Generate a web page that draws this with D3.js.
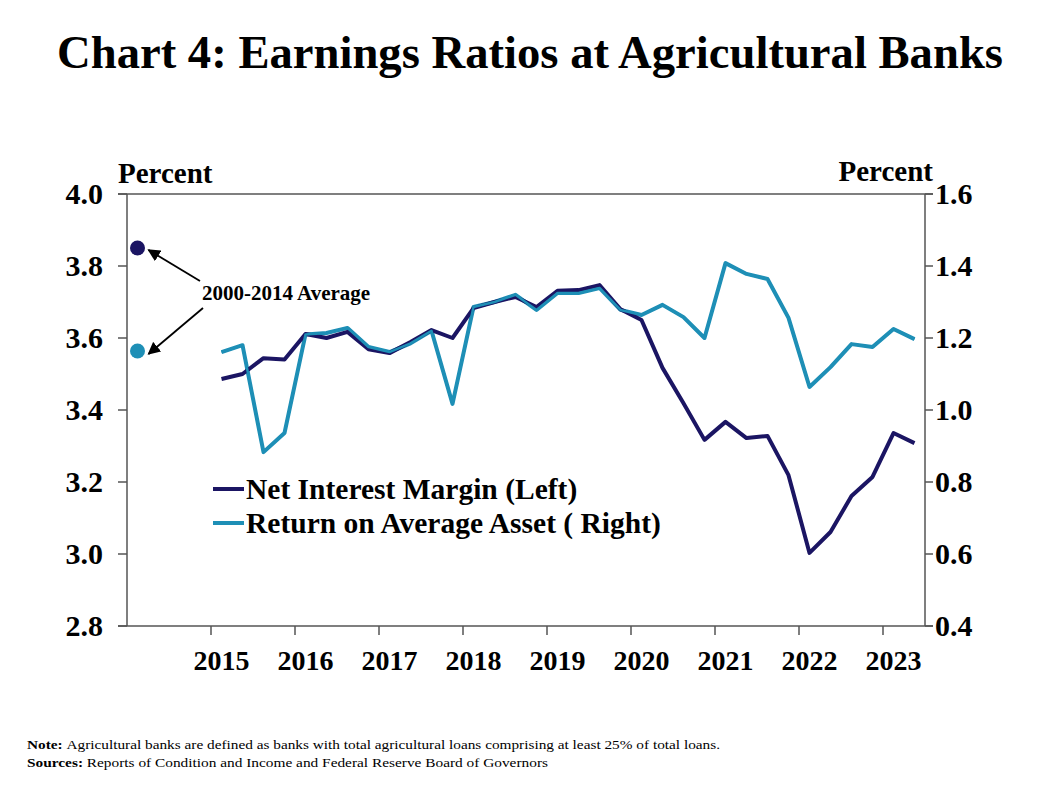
<!DOCTYPE html>
<html>
<head>
<meta charset="utf-8">
<script src="https://cdn.jsdelivr.net/npm/d3@7"></script>
<style>
  body { margin: 0; background: #fff; }
  svg text { font-family: "Liberation Serif", "Times New Roman", serif; font-weight: bold; fill: #000; }
</style>
</head>
<body>
<div id="chart"></div>
<script>
// Earnings ratios at agricultural banks, quarterly 2015Q1 - 2023Q2

const quarters = ['2015Q1','2015Q2','2015Q3','2015Q4','2016Q1','2016Q2','2016Q3','2016Q4',
                  '2017Q1','2017Q2','2017Q3','2017Q4','2018Q1','2018Q2','2018Q3','2018Q4',
                  '2019Q1','2019Q2','2019Q3','2019Q4','2020Q1','2020Q2','2020Q3','2020Q4',
                  '2021Q1','2021Q2','2021Q3','2021Q4','2022Q1','2022Q2','2022Q3','2022Q4',
                  '2023Q1','2023Q2']

const nim = [3.486, 3.50, 3.544, 3.54, 3.611, 3.60, 3.617, 3.569,
             3.558, 3.589, 3.622, 3.60, 3.683, 3.70, 3.714, 3.686,
             3.731, 3.733, 3.747, 3.68, 3.65, 3.517, 3.419, 3.317,
             3.367, 3.322, 3.328, 3.219, 3.003, 3.061, 3.161, 3.214,
             3.336, 3.308] // left axis

const roa = [1.161, 1.18, 0.883, 0.936, 1.21, 1.214, 1.228, 1.175,
             1.161, 1.185, 1.22, 1.017, 1.286, 1.30, 1.32, 1.278,
             1.325, 1.325, 1.339, 1.278, 1.264, 1.292, 1.258, 1.20,
             1.408, 1.378, 1.364, 1.256, 1.064, 1.119, 1.183, 1.175,
             1.225, 1.197] // right axis

const avgNim = 3.85  // 2000-2014 average, left axis
const avgRoa = 1.164 // 2000-2014 average, right axis

const years      = [2015, 2016, 2017, 2018, 2019, 2020, 2021, 2022, 2023]
const leftTicks  = [2.8, 3.0, 3.2, 3.4, 3.6, 3.8, 4.0]
const rightTicks = [0.4, 0.6, 0.8, 1.0, 1.2, 1.4, 1.6]

const C_NIM = '#1b1563'
const C_ROA = '#1e8fb6'

const W = 1050, H = 787
const L = 127, R = 925, T = 194, B = 626 // plot box

const svg = d3.select('#chart').append('svg').attr('width', W).attr('height', H)

// category slots run from 2014Q1 to 2023Q2 (38 quarters)
const FIRST = 2014
const xs  = d3.scaleLinear([0, 38], [L, R])
const qi  = q => (+q.slice(0, 4) - FIRST) * 4 + (+q.slice(5) - 1) // slot index
const ysl = d3.scaleLinear([2.8, 4.0], [B, T])
const ysr = d3.scaleLinear([0.4, 1.6], [B, T])

// title
svg.append('text').attr('x', 530).attr('y', 68).attr('text-anchor', 'middle')
  .style('font-size', '47px').attr('textLength', 946).attr('lengthAdjust', 'spacingAndGlyphs')
  .text('Chart 4: Earnings Ratios at Agricultural Banks')

// axes
const ax = svg.append('g').attr('stroke', '#555').attr('stroke-width', 1.5)
ax.append('line').attr('x1', L - 9).attr('x2', R + 8).attr('y1', T).attr('y2', T)
ax.append('line').attr('x1', L - 9).attr('x2', R + 8).attr('y1', B).attr('y2', B)
ax.append('line').attr('x1', L).attr('x2', L).attr('y1', T).attr('y2', B)
ax.append('line').attr('x1', R).attr('x2', R).attr('y1', T).attr('y2', B)

ax.selectAll('.tl').data(leftTicks).join('line')
  .attr('x1', L - 9).attr('x2', L).attr('y1', d => ysl(d)).attr('y2', d => ysl(d))
ax.selectAll('.tr').data(rightTicks).join('line')
  .attr('x1', R).attr('x2', R + 8).attr('y1', d => ysr(d)).attr('y2', d => ysr(d))
ax.selectAll('.tx').data(years).join('line')
  .attr('x1', d => xs((d - FIRST) * 4)).attr('x2', d => xs((d - FIRST) * 4))
  .attr('y1', B).attr('y2', B + 9)

svg.selectAll('.ll').data(leftTicks).join('text')
  .attr('x', 103).attr('y', d => ysl(d) + 10).attr('text-anchor', 'end')
  .style('font-size', '30px').text(d => d.toFixed(1))
svg.selectAll('.rl').data(rightTicks).join('text')
  .attr('x', 935).attr('y', d => ysr(d) + 10)
  .style('font-size', '30px').text(d => d.toFixed(1))
svg.selectAll('.yl').data(years).join('text')
  .attr('x', d => xs((d - FIRST) * 4 + 0.5)).attr('y', B + 44).attr('text-anchor', 'middle')
  .style('font-size', '28px').text(d => d)

svg.append('text').attr('x', 118).attr('y', 183).style('font-size', '29px').text('Percent')
svg.append('text').attr('x', 933).attr('y', 181).attr('text-anchor', 'end')
  .style('font-size', '29px').text('Percent')

// lines
const lineL = d3.line().x((d, i) => xs(qi(quarters[i]) + 0.5)).y(d => ysl(d))
const lineR = d3.line().x((d, i) => xs(qi(quarters[i]) + 0.5)).y(d => ysr(d))

svg.append('path').datum(roa).attr('d', lineR).attr('fill', 'none')
  .attr('stroke', C_ROA).attr('stroke-width', 4).attr('stroke-linejoin', 'round')
svg.append('path').datum(nim).attr('d', lineL).attr('fill', 'none')
  .attr('stroke', C_NIM).attr('stroke-width', 4).attr('stroke-linejoin', 'round')
// roa drawn again lightly on top where the two overlap, like the original
svg.append('path').datum(roa).attr('d', lineR).attr('fill', 'none')
  .attr('stroke', C_ROA).attr('stroke-width', 2.5).attr('stroke-linejoin', 'round')

// 2000-2014 averages
const dotX = xs(0.5)
svg.append('circle').attr('cx', dotX).attr('cy', ysl(avgNim)).attr('r', 7.5).attr('fill', C_NIM)
svg.append('circle').attr('cx', dotX).attr('cy', ysr(avgRoa)).attr('r', 7.5).attr('fill', C_ROA)

svg.append('defs').append('marker').attr('id', 'arr').attr('viewBox', '0 0 10 10')
  .attr('refX', 9).attr('refY', 5).attr('markerWidth', 7).attr('markerHeight', 7)
  .attr('orient', 'auto').append('path').attr('d', 'M0,0L10,5L0,10z').attr('fill', '#000')

svg.append('line').attr('x1', 200).attr('y1', 281).attr('x2', dotX + 11).attr('y2', ysl(avgNim) + 2)
  .attr('stroke', '#000').attr('stroke-width', 1.8).attr('marker-end', 'url(#arr)')
svg.append('line').attr('x1', 203).attr('y1', 308).attr('x2', dotX + 11).attr('y2', ysr(avgRoa) + 3)
  .attr('stroke', '#000').attr('stroke-width', 1.8).attr('marker-end', 'url(#arr)')
svg.append('text').attr('x', 202).attr('y', 300).style('font-size', '21px').text('2000-2014 Average')

// legend
const legend = [['Net Interest Margin (Left)', C_NIM], ['Return on Average Asset ( Right)', C_ROA]]
const lg = svg.selectAll('.lg').data(legend).join('g')
  .attr('transform', (d, i) => `translate(213,${489 + i * 34})`)
lg.append('line').attr('x1', 0).attr('x2', 31).attr('stroke', d => d[1]).attr('stroke-width', 4)
lg.append('text').attr('x', 33).attr('y', 10).style('font-size', '29.5px').text(d => d[0])

// notes
const notes = svg.append('g').style('font-size', '13.5px')
const n1 = notes.append('text').attr('x', 27).attr('y', 749)
  .attr('textLength', 693).attr('lengthAdjust', 'spacingAndGlyphs')
n1.append('tspan').text('Note: ')
n1.append('tspan').style('font-weight', 'normal')
  .text('Agricultural banks are defined as banks with total agricultural loans comprising at least 25% of total loans.')
const n2 = notes.append('text').attr('x', 27).attr('y', 767)
  .attr('textLength', 521).attr('lengthAdjust', 'spacingAndGlyphs')
n2.append('tspan').text('Sources: ')
n2.append('tspan').style('font-weight', 'normal')
  .text('Reports of Condition and Income and Federal Reserve Board of Governors')
</script>
</body>
</html>
